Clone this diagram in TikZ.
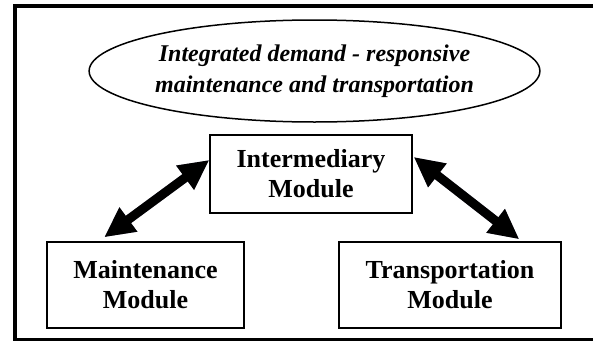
\documentclass[tikz,border=0pt]{standalone}
\usepackage{fontspec}
\setmainfont{Liberation Serif}
\usetikzlibrary{arrows.meta,calc,shapes.geometric}
\definecolor{shadowc}{RGB}{150,146,175}
\begin{document}
\begin{tikzpicture}[x=1pt,y=-1pt,
  box/.style={draw,line width=1.5pt,inner sep=0pt,align=center,
    font=\fontsize{26}{30}\selectfont\bfseries},
  dbl/.style={line width=9pt,
    {Triangle[width=28pt,length=30pt]}-{Triangle[width=28pt,length=30pt]}},
  shad/.style={dbl,draw=shadowc,shift={(2.5,2.5)}}
  ]
\useasboundingbox (0,0) rectangle (593,343);
\draw[line width=3.5pt] (593,6) -- (15,6) -- (15,339.5) -- (593,339.5);
\node[ellipse,draw,line width=1.5pt,minimum width=435pt,minimum height=102pt,
  inner sep=0pt,align=center,font=\fontsize{24}{31}\selectfont\bfseries\itshape]
  (goal) at (314.5,71) {Integrated demand - responsive\\maintenance and transportation};
\node[box,minimum width=202pt,minimum height=78pt] (inter) at (311,174) {Intermediary\\Module};
\node[box,minimum width=197pt,minimum height=86pt] (maint) at (145.5,285) {Maintenance\\Module};
\node[box,minimum width=222pt,minimum height=86pt] (trans) at (450,285) {Transportation\\Module};
\coordinate (a1) at ($(maint.north west)+(58,-4)$);
\coordinate (a2) at ($(inter.west)+(0,-14)$);
\coordinate (b1) at ($(inter.east)+(1,-17)$);
\coordinate (b2) at ($(trans.north west)+(181,-2)$);
\draw[shad] (a1) -- (a2);
\draw[dbl] (a1) -- (a2);
\draw[shad] (b1) -- (b2);
\draw[dbl] (b1) -- (b2);
\end{tikzpicture}
\end{document}
